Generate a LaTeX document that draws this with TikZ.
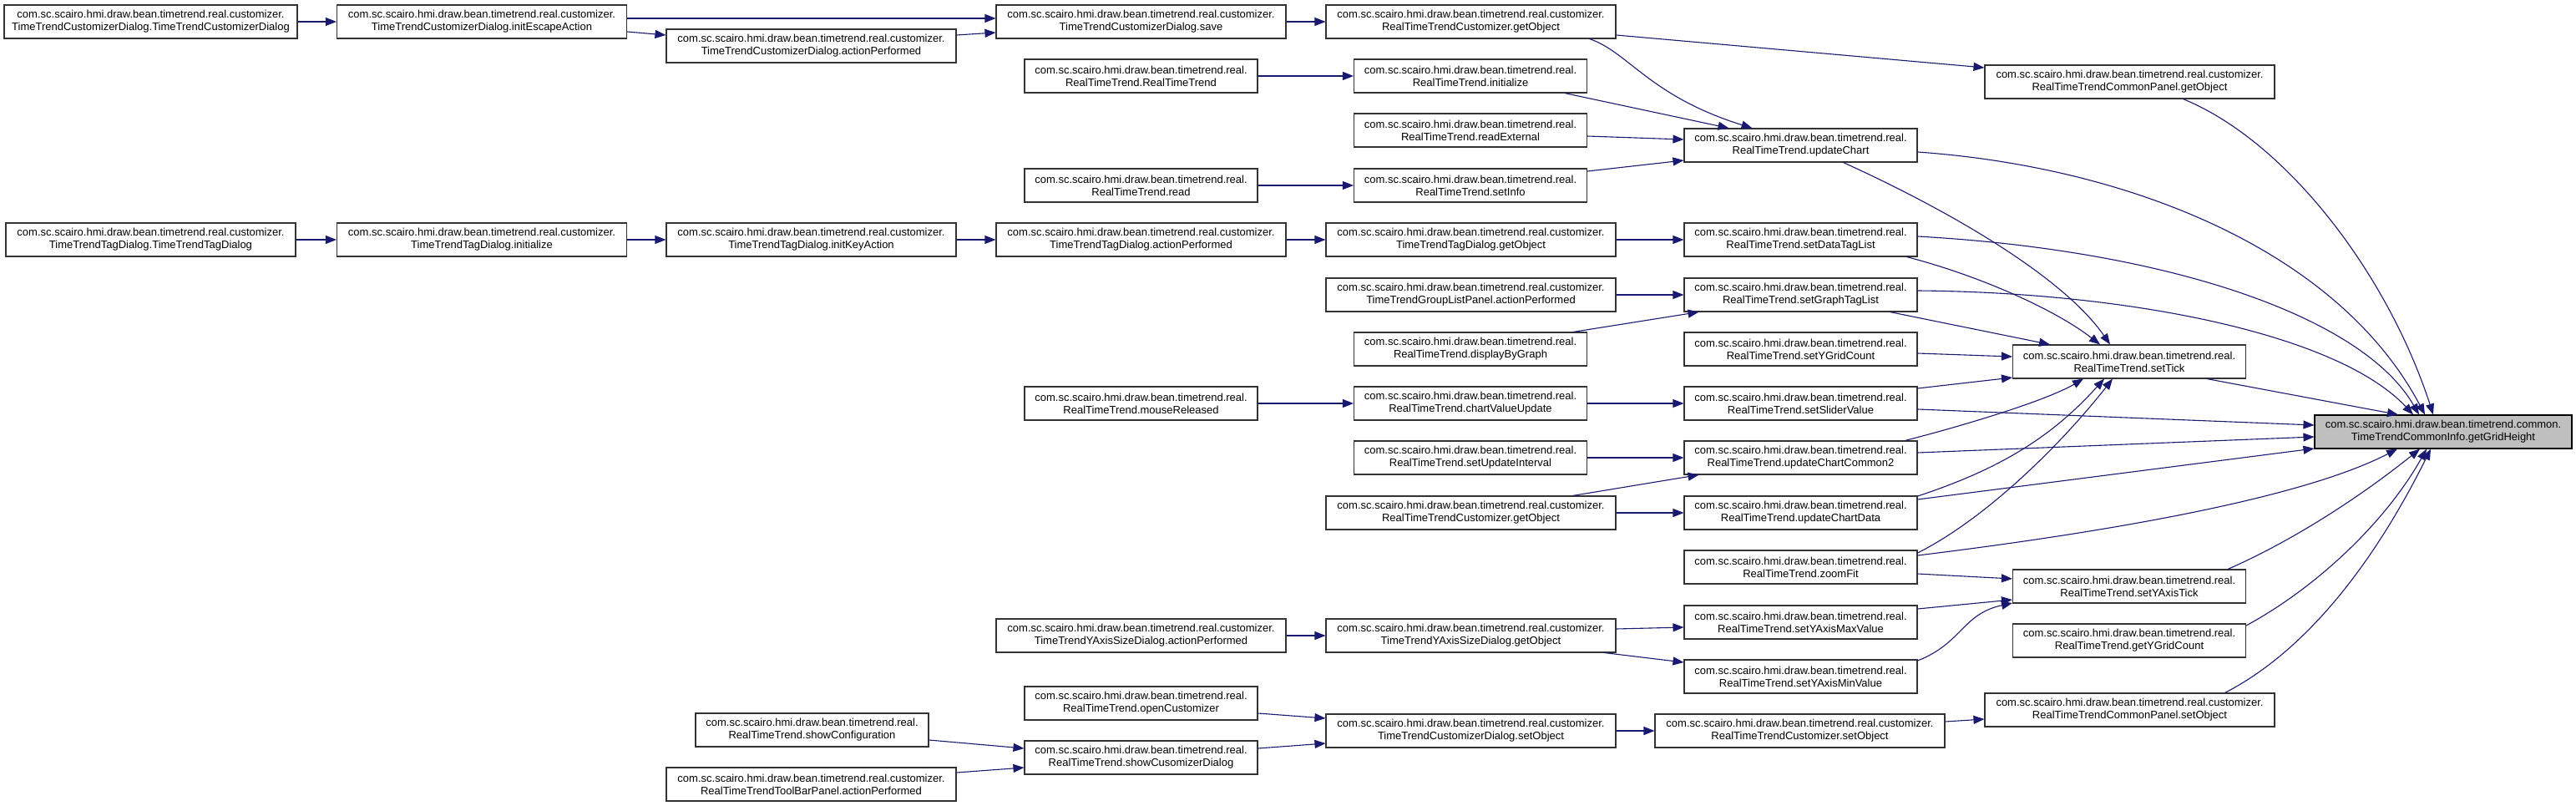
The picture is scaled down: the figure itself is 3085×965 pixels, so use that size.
\documentclass[tikz,border=0pt]{standalone}
\usepackage{fontspec}
\setmainfont{Liberation Sans}
\usetikzlibrary{arrows.meta}
\definecolor{edgec}{HTML}{191970}
\definecolor{boxc}{HTML}{333333}
\definecolor{hilite}{HTML}{BFBFBF}
\newcommand\pkgC{com.sc.scairo.hmi.draw.bean.timetrend.real.customizer.}
\newcommand\pkgR{com.sc.scairo.hmi.draw.bean.timetrend.real.}
\begin{document}
\begin{tikzpicture}[x=1pt,y=-1pt,
  fn/.style={draw=boxc, line width=1.1pt, fill=white, minimum height=40pt, inner sep=0pt,
    align=center, font=\fontsize{13pt}{15pt}\selectfont},
  cbox/.style={fn, minimum width=347pt},
  rbox/.style={fn, minimum width=279pt},
  gbox/.style={fn, minimum width=308pt, fill=hilite, draw=black},
  call/.style={draw=edgec, line width=1.1pt, -{Triangle[length=13pt,width=10pt]}, color=edgec}]
\useasboundingbox (0,0) rectangle (3085,965);

% column 1
\node[cbox, minimum width=351pt] (A) at (180.5,26) {\pkgC\\TimeTrendCustomizerDialog.TimeTrendCustomizerDialog};
\node[cbox] (TA) at (180.5,287) {\pkgC\\TimeTrendTagDialog.TimeTrendTagDialog};
% column 2
\node[cbox] (B) at (577,26) {\pkgC\\TimeTrendCustomizerDialog.initEscapeAction};
\node[cbox] (TB) at (577,287) {\pkgC\\TimeTrendTagDialog.initialize};
% column 3
\node[cbox] (C) at (971.5,55) {\pkgC\\TimeTrendCustomizerDialog.actionPerformed};
\node[cbox] (TC) at (971.5,287) {\pkgC\\TimeTrendTagDialog.initKeyAction};
\node[rbox] (showConf) at (972.5,874) {\pkgR\\RealTimeTrend.showConfiguration};
\node[cbox] (toolbar) at (971.5,939) {\pkgC\\RealTimeTrendToolBarPanel.actionPerformed};
% column 4
\node[cbox] (D) at (1366.5,26) {\pkgC\\TimeTrendCustomizerDialog.save};
\node[rbox] (RTT) at (1366.5,91) {\pkgR\\RealTimeTrend.RealTimeTrend};
\node[rbox] (read) at (1366.5,222) {\pkgR\\RealTimeTrend.read};
\node[cbox] (TD) at (1366.5,287) {\pkgC\\TimeTrendTagDialog.actionPerformed};
\node[rbox] (mouseRel) at (1366.5,483) {\pkgR\\RealTimeTrend.mouseReleased};
\node[cbox] (YASDap) at (1366.5,761) {\pkgC\\TimeTrendYAxisSizeDialog.actionPerformed};
\node[rbox] (openCust) at (1366.5,842) {\pkgR\\RealTimeTrend.openCustomizer};
\node[rbox] (showCust) at (1366.5,907) {\pkgR\\RealTimeTrend.showCusomizerDialog};
% column 5
\node[cbox] (E) at (1761.5,26) {\pkgC\\RealTimeTrendCustomizer.getObject};
\node[rbox] (init) at (1761,91) {\pkgR\\RealTimeTrend.initialize};
\node[rbox] (readExt) at (1761,156) {\pkgR\\RealTimeTrend.readExternal};
\node[rbox] (setInfo) at (1761,222) {\pkgR\\RealTimeTrend.setInfo};
\node[cbox] (TGO) at (1761.5,287) {\pkgC\\TimeTrendTagDialog.getObject};
\node[cbox] (GLP) at (1761.5,353) {\pkgC\\TimeTrendGroupListPanel.actionPerformed};
\node[rbox] (dispGraph) at (1761,418) {\pkgR\\RealTimeTrend.displayByGraph};
\node[rbox] (chartVU) at (1761,483) {\pkgR\\RealTimeTrend.chartValueUpdate};
\node[rbox] (setUI) at (1761,548) {\pkgR\\RealTimeTrend.setUpdateInterval};
\node[cbox] (RTCgo) at (1761.5,614) {\pkgC\\RealTimeTrendCustomizer.getObject};
\node[cbox] (YASDgo) at (1761.5,761) {\pkgC\\TimeTrendYAxisSizeDialog.getObject};
\node[cbox] (CDset) at (1761.5,875) {\pkgC\\TimeTrendCustomizerDialog.setObject};
% column 6
\node[rbox] (updChart) at (2156.5,174) {\pkgR\\RealTimeTrend.updateChart};
\node[rbox] (setDTL) at (2156.5,287) {\pkgR\\RealTimeTrend.setDataTagList};
\node[rbox] (setGTL) at (2156.5,353) {\pkgR\\RealTimeTrend.setGraphTagList};
\node[rbox] (setYGC) at (2156.5,418) {\pkgR\\RealTimeTrend.setYGridCount};
\node[rbox] (setSV) at (2156.5,483) {\pkgR\\RealTimeTrend.setSliderValue};
\node[rbox] (updCC2) at (2156.5,548) {\pkgR\\RealTimeTrend.updateChartCommon2};
\node[rbox] (updCD) at (2156.5,614) {\pkgR\\RealTimeTrend.updateChartData};
\node[rbox] (zoomFit) at (2156.5,679) {\pkgR\\RealTimeTrend.zoomFit};
\node[rbox] (setYMax) at (2156.5,745) {\pkgR\\RealTimeTrend.setYAxisMaxValue};
\node[rbox] (setYMin) at (2156.5,810) {\pkgR\\RealTimeTrend.setYAxisMinValue};
\node[cbox] (RTCset) at (2155.5,875) {\pkgC\\RealTimeTrendCustomizer.setObject};
% column 7
\node[cbox] (CPgo) at (2550.5,98) {\pkgC\\RealTimeTrendCommonPanel.getObject};
\node[rbox] (setTick) at (2550,433) {\pkgR\\RealTimeTrend.setTick};
\node[rbox] (setYAT) at (2550,702) {\pkgR\\RealTimeTrend.setYAxisTick};
\node[rbox] (getYGC) at (2550,767) {\pkgR\\RealTimeTrend.getYGridCount};
\node[cbox] (CPset) at (2550.5,850) {\pkgC\\RealTimeTrendCommonPanel.setObject};
% target
\node[gbox] (GGH) at (2926,517) {com.sc.scairo.hmi.draw.bean.timetrend.common.\\TimeTrendCommonInfo.getGridHeight};

% top chain
\draw[call] (A.east) -- (B.west);
\draw[call] ([yshift=4pt]B.east) -- ([yshift=4pt]D.west);
\draw[call] ([yshift=-12pt]B.east) -- ([yshift=13pt]C.west);
\draw[call] ([yshift=13pt]C.east) -- ([yshift=-13pt]D.west);
\draw[call] (D.east) -- (E.west);
\draw[call] ([yshift=-16pt]E.east) -- ([yshift=17pt]CPgo.west);
\draw[call] ([xshift=142pt]E.south) .. controls (1950,62) and (1975,115) .. ([xshift=-58pt]updChart.north);
\draw[call] (RTT.east) -- (init.west);
\draw[call] ([xshift=113pt]init.south) -- ([xshift=-86pt]updChart.north);
\draw[call] ([yshift=-7pt]readExt.east) -- ([yshift=7pt]updChart.west);
\draw[call] (read.east) -- (setInfo.west);
\draw[call] ([yshift=17pt]setInfo.east) -- ([yshift=-18pt]updChart.west);

% tag chain
\draw[call] (TA.east) -- (TB.west);
\draw[call] (TB.east) -- (TC.west);
\draw[call] (TC.east) -- (TD.west);
\draw[call] (TD.east) -- (TGO.west);
\draw[call] (TGO.east) -- (setDTL.west);

\draw[call] (GLP.east) -- (setGTL.west);
\draw[call] ([xshift=123pt]dispGraph.north) -- ([xshift=-122pt]setGTL.south);
\draw[call] (mouseRel.east) -- (chartVU.west);
\draw[call] (chartVU.east) -- (setSV.west);
\draw[call] (setUI.east) -- (updCC2.west);
\draw[call] ([xshift=122pt]RTCgo.north) -- ([xshift=-122pt]updCC2.south);
\draw[call] (RTCgo.east) -- (updCD.west);

% to setTick
\draw[call] ([xshift=51pt]updChart.south) .. controls (2330,250) and (2470,330) .. ([xshift=-23pt]setTick.north);
\draw[call] ([xshift=127pt]setDTL.south) .. controls (2370,330) and (2460,370) .. ([xshift=-35pt]setTick.north);
\draw[call] ([xshift=107pt]setGTL.south) -- ([xshift=-95pt]setTick.north);
\draw[call] ([yshift=-5pt]setYGC.east) -- ([yshift=6pt]setTick.west);
\draw[call] ([yshift=18pt]setSV.east) -- ([yshift=-19pt]setTick.west);
\draw[call] ([xshift=125pt]updCC2.north) .. controls (2350,510) and (2450,480) .. ([xshift=-55pt]setTick.south);
\draw[call] ([yshift=20pt]updCD.east) .. controls (2400,560) and (2460,520) .. ([xshift=-30pt]setTick.south);
\draw[call] ([yshift=17pt]zoomFit.east) .. controls (2380,620) and (2470,530) .. ([xshift=-20pt]setTick.south);

% to getGridHeight
\draw[call] ([yshift=-8pt]updChart.east) .. controls (2550,200) and (2800,300) .. ([xshift=-22pt]GGH.north);
\draw[call] ([xshift=64pt]CPgo.south) .. controls (2740,170) and (2860,330) .. ([xshift=-12pt]GGH.north);
\draw[call] ([yshift=4pt]setDTL.east) .. controls (2600,300) and (2830,380) .. ([xshift=-29pt]GGH.north);
\draw[call] ([yshift=5pt]setGTL.east) .. controls (2550,350) and (2800,400) .. ([xshift=-36pt]GGH.north);
\draw[call] ([xshift=93pt]setTick.south) -- ([xshift=-54pt]GGH.north);
\draw[call] ([yshift=-7pt]setSV.east) -- ([yshift=8pt]GGH.west);
\draw[call] ([yshift=6pt]updCC2.east) -- ([yshift=-6pt]GGH.west);
\draw[call] ([yshift=16pt]updCD.east) -- ([yshift=-20pt]GGH.west);
\draw[call] ([yshift=14pt]zoomFit.east) .. controls (2500,640) and (2750,600) .. ([xshift=-55pt]GGH.south);
\draw[call] ([xshift=118pt]setYAT.north) .. controls (2740,650) and (2820,600) .. ([xshift=-28pt]GGH.south);
\draw[call] ([yshift=18pt]getYGC.east) .. controls (2780,700) and (2860,620) .. ([xshift=-20pt]GGH.south);
\draw[call] ([xshift=114pt]CPset.north) .. controls (2780,770) and (2860,640) .. ([xshift=-15pt]GGH.south);

% y-axis
\draw[call] ([yshift=-8pt]zoomFit.east) -- ([yshift=9pt]setYAT.west);
\draw[call] ([yshift=16pt]setYMax.east) -- ([yshift=-16pt]setYAT.west);
\draw[call] ([yshift=19pt]setYMin.east) .. controls (2350,770) and (2350,735) .. ([yshift=-20pt]setYAT.west);
\draw[call] (YASDap.east) -- (YASDgo.west);
\draw[call] ([yshift=8pt]YASDgo.east) -- ([yshift=-6pt]setYMax.west);
\draw[call] ([xshift=160pt]YASDgo.south) -- ([yshift=17pt]setYMin.west);

% bottom chain
\draw[call] ([yshift=-12pt]openCust.east) -- ([yshift=15pt]CDset.west);
\draw[call] ([yshift=11pt]showCust.east) -- ([yshift=-15pt]CDset.west);
\draw[call] ([yshift=-12pt]showConf.east) -- ([yshift=11pt]showCust.west);
\draw[call] ([yshift=14pt]toolbar.east) -- ([yshift=-12pt]showCust.west);
\draw[call] (CDset.east) -- (RTCset.west);
\draw[call] ([yshift=11pt]RTCset.east) -- ([yshift=-11pt]CPset.west);
\end{tikzpicture}
\end{document}
